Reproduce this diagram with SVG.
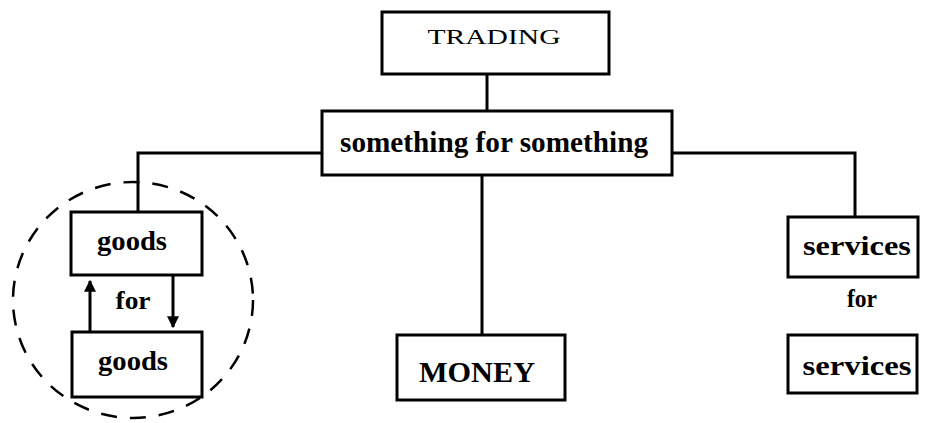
<svg xmlns="http://www.w3.org/2000/svg" width="926" height="423" viewBox="0 0 926 423">
<defs>
<style>
.box{fill:#fff;stroke:#000;stroke-width:3}
.ln{fill:none;stroke:#000;stroke-width:3}
.t{font-family:"Liberation Serif","DejaVu Serif",serif;font-weight:bold;fill:#000;text-anchor:middle}
.r{font-weight:normal}
</style>
<marker id="ah" viewBox="0 0 10 10" refX="9" refY="5" markerWidth="4.5" markerHeight="4" orient="auto" markerUnits="strokeWidth">
<path d="M0,0 L10,5 L0,10 z" fill="#000"/>
</marker>
</defs>
<rect width="926" height="423" fill="#fff"/>
<g id="connectors">
<path class="ln" d="M487,74 V111"/>
<path class="ln" d="M322,153 H138 V212"/>
<path class="ln" d="M672,153 H855 V217"/>
<path class="ln" d="M482,175 V335"/>
<path class="ln" d="M90,332 V281" marker-end="url(#ah)"/>
<path class="ln" d="M173,275 V327" marker-end="url(#ah)"/>
<ellipse cx="133" cy="300" rx="120" ry="118" fill="none" stroke="#000" stroke-width="2.5" stroke-dasharray="16,13"/>
</g>
<g id="trading">
<rect class="box" x="382" y="12" width="227" height="62"/>
<text class="t r" x="494" y="44" font-size="22" textLength="133" lengthAdjust="spacingAndGlyphs">TRADING</text>
</g>
<g id="something">
<rect class="box" x="322" y="111" width="350" height="64"/>
<text class="t" x="494" y="152" font-size="29" textLength="308" lengthAdjust="spacingAndGlyphs">something for something</text>
</g>
<g id="goods1">
<rect class="box" x="71" y="212" width="131" height="63"/>
<text class="t" x="132" y="250" font-size="28" textLength="70" lengthAdjust="spacingAndGlyphs">goods</text>
</g>
<text class="t" x="133" y="309" font-size="26" textLength="35" lengthAdjust="spacingAndGlyphs">for</text>
<g id="goods2">
<rect class="box" x="72" y="332" width="130" height="65"/>
<text class="t" x="133" y="370" font-size="28" textLength="70" lengthAdjust="spacingAndGlyphs">goods</text>
</g>
<g id="money">
<rect class="box" x="397" y="335" width="168" height="65"/>
<text class="t" x="477" y="382" font-size="30" textLength="116" lengthAdjust="spacingAndGlyphs">MONEY</text>
</g>
<g id="services1">
<rect class="box" x="788" y="217" width="130" height="60"/>
<text class="t" x="857" y="255" font-size="28" textLength="108" lengthAdjust="spacingAndGlyphs">services</text>
</g>
<text class="t" x="862" y="307" font-size="26" textLength="30" lengthAdjust="spacingAndGlyphs">for</text>
<g id="services2">
<rect class="box" x="788" y="335" width="129" height="58"/>
<text class="t" x="857" y="375" font-size="28" textLength="109" lengthAdjust="spacingAndGlyphs">services</text>
</g>
</svg>
